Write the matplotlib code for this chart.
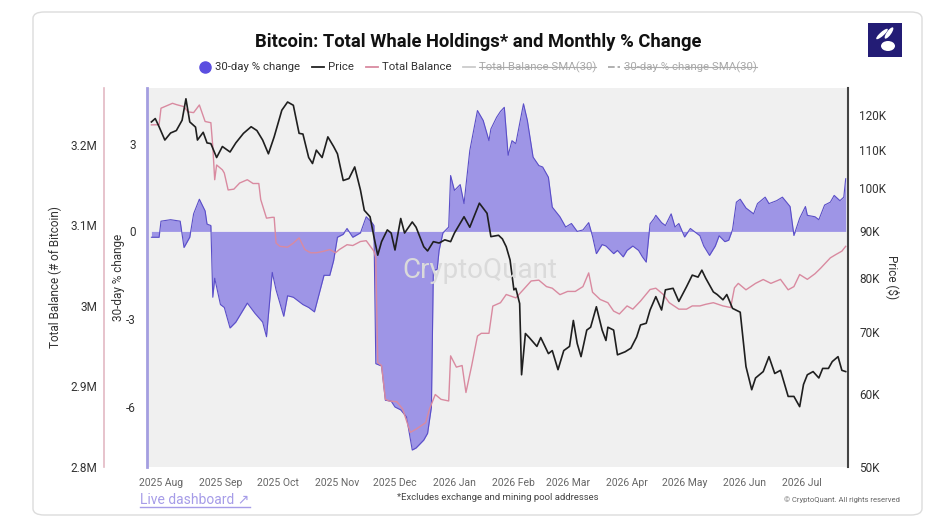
import matplotlib
matplotlib.use("Agg")
import matplotlib.pyplot as plt
import matplotlib.ticker as mticker
from matplotlib.patches import FancyBboxPatch, Rectangle, Ellipse
from matplotlib.lines import Line2D
import pandas as pd

plt.rcParams['font.family'] = ['Roboto', 'DejaVu Sans']

START = pd.Timestamp('2025-08-01')

# 30-day % change (days since 2025-08-01, value %)
pct_days = [-5, -1, 0, 5, 10, 12, 15, 17, 20, 23, 24, 26, 27, 28, 31, 33, 36, 39, 45, 49,
            53, 55, 58, 60, 64, 66, 69, 74, 77, 80, 83, 85, 88, 90, 92, 95, 97, 100, 104, 107,
            110, 111, 112, 115, 117, 120, 122, 125, 128, 131, 133, 137, 139, 141, 142, 144, 145, 147, 150, 151,
            153, 156, 158, 161, 165, 168, 171, 172, 175, 177, 179, 181, 183, 185, 189, 191, 194, 197, 199, 202,
            204, 208, 211, 214, 217, 220, 223, 225, 227, 230, 232, 236, 238, 241, 243, 246, 249, 251, 253, 255,
            257, 258, 261, 263, 266, 268, 270, 273, 276, 278, 281, 283, 286, 289, 291, 294, 296, 298, 300, 302,
            305, 309, 311, 315, 317, 321, 324, 328, 330, 333, 336, 337, 341, 343, 346, 349, 351, 354, 356, 357]
pct_vals = [-0.2, -0.2, 0.35, 0.4, 0.35, -0.55, -0.2, 0.6, 1.1, 0.7, 0.25, 0.2, -2.25, -1.6, -2.5, -2.6, -3.3, -3.1, -2.45, -2.8,
            -3.1, -3.6, -1.4, -2.0, -2.9, -2.2, -2.25, -2.5, -2.6, -2.75, -2.0, -1.5, -1.5, -1.0, -0.2, -0.1, 0.1, -0.2, -0.05, 0.5,
            0.3, 0.2, -4.52, -4.6, -5.77, -5.8, -6.0, -6.1, -6.34, -7.47, -7.4, -7.13, -6.9, -6.0, -1.33, -1.3, -0.65, -0.05, 0.15, 1.91,
            1.4, 1.6, 0.95, 2.76, 4.13, 3.79, 3.1, 3.5, 3.9, 4.1, 4.24, 2.6, 3.1, 3.0, 4.36, 3.8, 2.54, 2.25, 2.2, 1.85,
            0.83, 0.5, 0.15, 0.27, 0.0, 0.05, 0.3, -0.17, -0.76, -0.45, -0.5, -0.76, -0.65, -0.87, -0.65, -0.5, -0.65, -0.87, -1.05, 0.26,
            0.43, 0.55, 0.3, 0.2, 0.6, 0.15, 0.27, -0.19, 0.1, 0.0, -0.15, -0.5, -0.82, -0.5, -0.15, -0.35, -0.3, 0.06, 1.0, 1.1,
            0.8, 0.6, 0.95, 1.17, 0.95, 1.05, 1.17, 0.85, -0.14, 0.45, 0.85, 0.55, 0.5, 0.4, 0.9, 1.0, 1.23, 1.05, 1.17, 1.8]

# BTC price (days since 2025-08-01, USD thousands)
price_days = [-5, -3, -1, 2, 5, 8, 11, 13, 15, 18, 19, 22, 24, 26, 29, 32, 36, 39, 43, 47,
              50, 53, 56, 59, 63, 66, 69, 72, 74, 77, 79, 81, 84, 87, 90, 92, 95, 98, 101, 104,
              106, 109, 111, 113, 115, 118, 120, 122, 125, 127, 131, 133, 137, 139, 142, 145, 148, 151, 153, 158,
              161, 166, 170, 172, 176, 178, 180, 182, 184, 185, 187, 188, 190, 192, 196, 198, 202, 204, 207, 210,
              213, 215, 217, 219, 222, 224, 227, 230, 232, 233, 236, 238, 242, 245, 248, 250, 253, 255, 258, 261,
              263, 267, 270, 274, 277, 280, 282, 284, 288, 290, 293, 295, 298, 302, 305, 308, 310, 314, 317, 320,
              323, 327, 330, 333, 335, 337, 340, 343, 345, 348, 350, 353, 355, 357]
price_vals = [118, 119, 116.6, 112.8, 114.8, 115.5, 118.5, 125, 118, 116.5, 112.8, 115, 112, 111.8, 108, 111, 109.5, 112, 114.7, 116.6,
              115.5, 112.8, 109, 113.7, 121.5, 124, 123, 114.7, 114.5, 108, 106.4, 110, 108, 113.7, 111, 109, 102, 102.5, 105.5, 99.6,
              94.7, 93.2, 88.7, 84.7, 87.6, 90.2, 89.5, 85.8, 92.8, 89.5, 92, 90.8, 86.5, 85.6, 87.6, 87.3, 88, 87.6, 89.5, 93.2,
              90.8, 96.4, 94, 88.7, 89, 88.2, 86.5, 83.7, 77.7, 78, 75.1, 62.9, 69.7, 69, 67.5, 69, 66.3, 66.8, 63.7, 66.8,
              67.5, 72, 68, 65.8, 70.3, 70.8, 74.5, 70.3, 68.5, 70.8, 70.3, 66.1, 66.6, 67.2, 69.1, 71.2, 71.5, 73.9, 76.4, 73.9,
              77.7, 78, 75.5, 78.3, 80.6, 80.2, 81.6, 80, 77.3, 76.8, 75.8, 76.8, 74.2, 73.5, 64.2, 60.6, 62.4, 63.4, 65.8, 63.1,
              63.6, 59.6, 59.6, 58.1, 61.4, 62.9, 63.4, 62.4, 63.9, 63.9, 65, 65.8, 63.6, 63.4]

# Total whale balance (days since 2025-08-01, million BTC)
bal_days = [-5, -1, 0, 6, 8, 12, 14, 17, 20, 23, 26, 27, 28, 29, 32, 33, 35, 38, 41, 45,
            48, 51, 52, 55, 58, 59, 60, 62, 66, 69, 72, 75, 78, 81, 85, 88, 91, 93, 97, 100,
            104, 107, 111, 112, 113, 115, 117, 119, 123, 126, 130, 133, 138, 140, 143, 146, 150, 151, 154, 157,
            159, 162, 165, 167, 171, 173, 177, 180, 185, 189, 193, 197, 201, 204, 208, 212, 216, 220, 223, 225,
            229, 233, 236, 239, 243, 246, 250, 255, 258, 262, 265, 270, 274, 277, 281, 284, 288, 293, 297, 299,
            301, 305, 310, 314, 318, 323, 327, 330, 333, 337, 341, 344, 349, 352, 355, 357]
bal_vals = [3.2248, 3.225, 3.2455, 3.2516, 3.25, 3.2474, 3.241, 3.24, 3.2495, 3.229, 3.2275, 3.198, 3.1567, 3.175, 3.169, 3.165, 3.144, 3.145, 3.1526, 3.1567,
            3.152, 3.152, 3.132, 3.109, 3.11, 3.11, 3.078, 3.074, 3.073, 3.078, 3.0845, 3.07, 3.066, 3.066, 3.068, 3.07, 3.066, 3.07, 3.076, 3.075,
            3.08, 3.081, 3.068, 3.06, 2.9297, 2.926, 2.884, 2.882, 2.881, 2.872, 2.843, 2.847, 2.855, 2.872, 2.89, 2.884, 2.882, 2.938, 2.924, 2.926,
            2.8925, 2.926, 2.9626, 2.966, 2.966, 2.9998, 3.004, 3.0142, 3.01, 3.0204, 3.031, 3.032, 3.024, 3.022, 3.014, 3.018, 3.018, 3.024, 3.041, 3.017,
            3.008, 3.004, 2.9936, 2.99, 3.0, 2.996, 3.006, 3.0204, 3.022, 3.014, 3.004, 2.996, 2.996, 3.0, 3.0, 3.002, 3.004, 3.0, 2.998, 3.0225,
            3.028, 3.02, 3.028, 3.0328, 3.028, 3.033, 3.02, 3.024, 3.039, 3.033, 3.04, 3.047, 3.0597, 3.064, 3.068, 3.074]

month_labels = ['2025 Aug', '2025 Sep', '2025 Oct', '2025 Nov', '2025 Dec', '2026 Jan',
                '2026 Feb', '2026 Mar', '2026 Apr', '2026 May', '2026 Jun', '2026 Jul']
pct_ticks = [-6, -3, 0, 3]
bal_ticks = [2.8, 2.9, 3.0, 3.1, 3.2]
bal_ticklabels = ['2.8M', '2.9M', '3M', '3.1M', '3.2M']
price_ticks = [50, 60, 70, 80, 90, 100, 110, 120]

pct_dates = START + pd.to_timedelta(pct_days, unit='D')
price_dates = START + pd.to_timedelta(price_days, unit='D')
bal_dates = START + pd.to_timedelta(bal_days, unit='D')
month_dates = pd.date_range('2025-08-01', periods=len(month_labels), freq='MS')

W, H = 951, 530
fig = plt.figure(figsize=(W / 100, H / 100), dpi=100)
fig.patch.set_facecolor('white')

def fx(px):
    return px / W

def fy(py):
    return 1 - py / H

# card
card = FancyBboxPatch((fx(33), fy(515)), fx(922) - fx(33), fy(12) - fy(515),
                      boxstyle="round,pad=0,rounding_size=0.012", transform=fig.transFigure,
                      facecolor='white', edgecolor='#dcdcdc', linewidth=1.0, zorder=0)
fig.add_artist(card)

left, right, top, bottom = 147, 848, 88, 467
ax = fig.add_axes([fx(left), fy(bottom), fx(right) - fx(left), fy(top) - fy(bottom)])
ax.set_facecolor('#f0f0f0')

# pct fill
ax.fill_between(pct_dates, pct_vals, 0, color='#9a90e6', alpha=0.95, linewidth=0, zorder=1)
ax.plot(pct_dates, pct_vals, color='#5a4ec8', linewidth=0.8, zorder=2)
ax.set_ylim(-8.05, 4.9)
ax.set_yticks(pct_ticks)
ax.set_yticklabels([str(t) for t in pct_ticks])
ax.tick_params(axis='y', length=0, pad=8, labelsize=8.5, colors='#333333')
ax.set_ylabel('30-day % change', fontsize=8.5, color='#333333', labelpad=1)

x0 = START - pd.Timedelta(days=7.3)
x1 = START + pd.Timedelta(days=358.2)
ax.set_xlim(x0, x1)
ax.set_xticks(month_dates)
ax.set_xticklabels(month_labels)
ax.tick_params(axis='x', length=0, pad=8, labelsize=7.5, colors='#666666')

for s in ['top', 'right', 'bottom']:
    ax.spines[s].set_visible(False)
ax.spines['left'].set_color('#a49ee0')
ax.spines['left'].set_linewidth(2.0)

# balance axis
axb = ax.twinx()
axb.plot(bal_dates, bal_vals, color='#d98aa0', linewidth=1.0, zorder=3)
axb.set_ylim(2.8, 3.2 + 57 / 807.5)
axb.set_yticks(bal_ticks)
axb.set_yticklabels(bal_ticklabels)
axb.yaxis.set_ticks_position('left')
axb.yaxis.set_label_position('left')
axb.spines['left'].set_position(('outward', 31))
axb.spines['left'].set_color('#e3b9c4')
axb.spines['left'].set_linewidth(1.2)
for s in ['top', 'right', 'bottom']:
    axb.spines[s].set_visible(False)
axb.tick_params(axis='y', length=0, pad=5, labelsize=8.5, colors='#333333')
axb.set_ylabel('Total Balance (# of Bitcoin)', fontsize=8.5, color='#333333', labelpad=6)

# price axis
axp = ax.twinx()
axp.plot(price_dates, price_vals, color='#1f1f1f', linewidth=1.2, zorder=4)
axp.set_yscale('log')
axp.set_ylim(50, 128.4)
axp.yaxis.set_major_locator(mticker.FixedLocator(price_ticks))
axp.yaxis.set_minor_locator(mticker.NullLocator())
axp.yaxis.set_major_formatter(mticker.FuncFormatter(lambda v, p: f"{int(round(v))}K"))
axp.minorticks_off()
for s in ['top', 'left', 'bottom']:
    axp.spines[s].set_visible(False)
axp.spines['right'].set_color('#444444')
axp.spines['right'].set_linewidth(1.5)
axp.tick_params(axis='y', length=0, pad=8, labelsize=8.5, colors='#333333')
axp.set_ylabel('Price ($)', fontsize=8.5, color='#333333', rotation=270, labelpad=10)
axp.set_xlim(x0, x1)

# watermark
fig.text(fx(480), fy(271), 'CryptoQuant', fontsize=20, color='#dadada', ha='center', va='center', zorder=0.5)

# title
fig.text(fx(478), fy(42), 'Bitcoin: Total Whale Holdings* and Monthly % Change', fontsize=13.2, fontweight='bold',
         color='#111111', ha='center', va='center')

# legend (manual, laid out sequentially then centred)
fig.canvas.draw()
r = fig.canvas.get_renderer()
ly = fy(67)
legend_fs = 8.2
legend_items = [
    ('30-day % change', '#333333', False, ('marker', '#5b4ee0', None)),
    ('Price', '#333333', False, ('line', '#222222', '-')),
    ('Total Balance', '#333333', False, ('line', '#d98aa0', '-')),
    ('Total Balance SMA(30)', '#aaaaaa', True, ('line', '#cccccc', '-')),
    ('30-day % change SMA(30)', '#aaaaaa', True, ('line', '#aaaaaa', '--')),
]
widths = []
for label, col, strike, h in legend_items:
    t = fig.text(0, 0, label, fontsize=legend_fs)
    widths.append(t.get_window_extent(renderer=r).width)
    t.remove()
handle_w, handle_gap, item_gap = 12, 4, 12
total = sum(handle_w + handle_gap + w for w in widths) + item_gap * (len(widths) - 1)
xcur = 478 - total / 2
for (label, col, strike, h), w in zip(legend_items, widths):
    kind, hc, ls = h
    if kind == 'marker':
        fig.add_artist(Line2D([fx(xcur + 6)], [ly], marker='o', markersize=8, color=hc,
                              transform=fig.transFigure))
    else:
        fig.add_artist(Line2D([fx(xcur), fx(xcur + handle_w)], [ly, ly], color=hc, linestyle=ls,
                              linewidth=1.3, transform=fig.transFigure))
    tx = xcur + handle_w + handle_gap
    fig.text(fx(tx), ly, label, fontsize=legend_fs, color=col, ha='left', va='center')
    if strike:
        fig.add_artist(Line2D([fx(tx), fx(tx + w)], [ly, ly], color=col, linewidth=0.8,
                              transform=fig.transFigure))
    xcur = tx + w + item_gap

# footer
fig.text(fx(140), fy(500), 'Live dashboard \u2197', fontsize=10, color='#a69ce8', ha='left', va='center')
fig.add_artist(Line2D([fx(140), fx(250)], [fy(507), fy(507)], color='#a69ce8', linewidth=1.0,
                      transform=fig.transFigure))
fig.text(fx(498), fy(497), '*Excludes exchange and mining pool addresses', fontsize=6.8, color='#444444',
         ha='center', va='center')
fig.text(fx(900), fy(500), '\u00a9 CryptoQuant. All rights reserved', fontsize=5.5, color='#666666',
         ha='right', va='center')

# logo
fig.add_artist(Rectangle((fx(868), fy(57)), fx(902) - fx(868), fy(23) - fy(57), transform=fig.transFigure,
                         facecolor='#231c75', edgecolor='none'))
fig.add_artist(Ellipse((fx(888), fy(46)), fx(14) - fx(0), fy(0) - fy(10), transform=fig.transFigure,
                       facecolor='white', edgecolor='none'))
fig.add_artist(Ellipse((fx(882), fy(34)), fx(5) - fx(0), fy(0) - fy(12), angle=-30, transform=fig.transFigure,
                       facecolor='white', edgecolor='none'))
fig.add_artist(Ellipse((fx(889), fy(33)), fx(5) - fx(0), fy(0) - fy(12), angle=-20, transform=fig.transFigure,
                       facecolor='white', edgecolor='none'))

fig.savefig('out.png', dpi=100, facecolor='white')
